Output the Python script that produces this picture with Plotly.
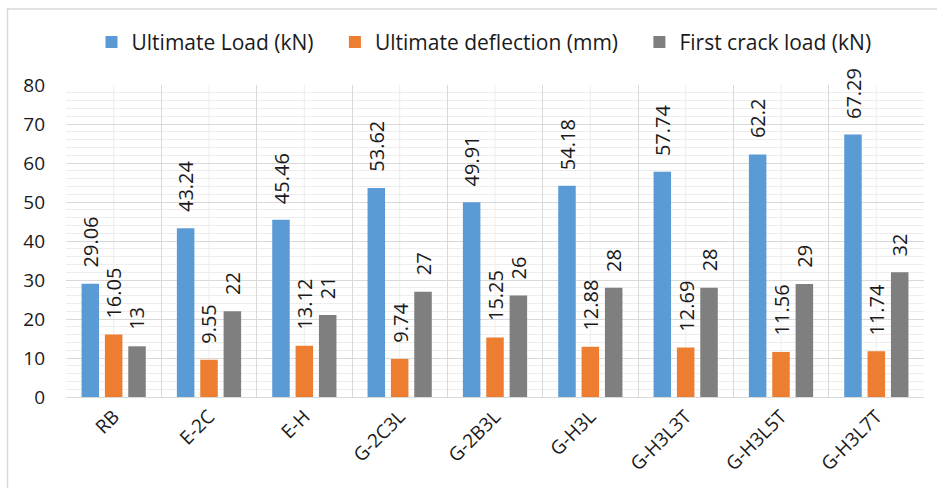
import plotly.graph_objects as go

# Beam specimens and measured results
specimens = ["RB", "E-2C", "E-H", "G-2C3L", "G-2B3L", "G-H3L", "G-H3L3T", "G-H3L5T", "G-H3L7T"]
ultimate_load = [29.06, 43.24, 45.46, 53.62, 49.91, 54.18, 57.74, 62.2, 67.29]
ultimate_deflection = [16.05, 9.55, 13.12, 9.74, 15.25, 12.88, 12.69, 11.56, 11.74]
first_crack_load = [13, 22, 21, 27, 26, 28, 28, 29, 32]

NB = "\u00a0"
series = [
    ("Ultimate Load (kN)" + NB * 3, ultimate_load, "#5B9BD5"),
    ("Ultimate deflection (mm)" + NB * 3, ultimate_deflection, "#ED7D31"),
    ("First crack load (kN)", first_crack_load, "#7F7F7F"),
]

W, H = 937, 488
ML, MR, MT, MB = 66, 13, 85, 89
plot_w = W - ML - MR
plot_h = H - MT - MB

fig = go.Figure()
for name, vals, color in series:
    fig.add_trace(go.Bar(
        name=name, x=specimens, y=vals,
        marker=dict(color=color, line=dict(width=0)),
    ))

# Rotated value labels above each bar
slot = plot_w / len(specimens) * (1 - 0.265) / 3
annotations = []
for i, (name, vals, color) in enumerate(series):
    offset = (i - 1) * slot
    for cat, v in zip(specimens, vals):
        annotations.append(dict(
            x=cat, y=v, xref="x", yref="y", text=f"{v:g}",
            showarrow=False, textangle=-90, xanchor="center", yanchor="bottom",
            xshift=offset, yshift=14,
            font=dict(family="Open Sans", size=20, color="#1a1a1a"),
        ))

# Light vertical lines through each category centre
shapes = []
for cat in specimens:
    shapes.append(dict(type="line", xref="x", yref="y", x0=cat, x1=cat, y0=0, y1=80,
                       line=dict(color="#EDEDED", width=1), layer="below"))

# Outer chart frame
px = lambda p: (p - ML) / plot_w
py = lambda p: (H - MB - p) / plot_h
shapes.append(dict(type="rect", xref="paper", yref="paper",
                   x0=px(7.5), x1=px(W + 10), y0=py(H + 10), y1=py(8.5),
                   line=dict(color="#D9D9D9", width=1.5), fillcolor="rgba(0,0,0,0)", layer="below"))

fig.update_layout(
    width=W, height=H,
    margin=dict(l=ML, r=MR, t=MT, b=MB),
    paper_bgcolor="white", plot_bgcolor="white",
    barmode="group", bargap=0.265, bargroupgap=0.25,
    font=dict(family="Open Sans", color="#1a1a1a"),
    legend=dict(orientation="h", x=px(484), xanchor="center", y=1.0 + (MT - 42) / plot_h,
                yanchor="middle", font=dict(size=21, color="#1a1a1a"),
                itemsizing="constant", traceorder="normal"),
    annotations=annotations,
    shapes=shapes,
    xaxis=dict(
        type="category", tickangle=-45, tickson="boundaries",
        showgrid=True, gridcolor="#D9D9D9", gridwidth=1,
        showline=True, linecolor="#D9D9D9", linewidth=1,
        ticks="", tickfont=dict(size=19, color="#1a1a1a"),
    ),
    yaxis=dict(
        range=[0, 80], dtick=10, showgrid=True, gridcolor="#D9D9D9", gridwidth=1,
        minor=dict(dtick=2, showgrid=True, gridcolor="#EDEDED", gridwidth=1),
        zeroline=False, ticks="", tickfont=dict(size=19, color="#1a1a1a"),
        ticklabelstandoff=20,
    ),
)

fig.write_html("out.html")
